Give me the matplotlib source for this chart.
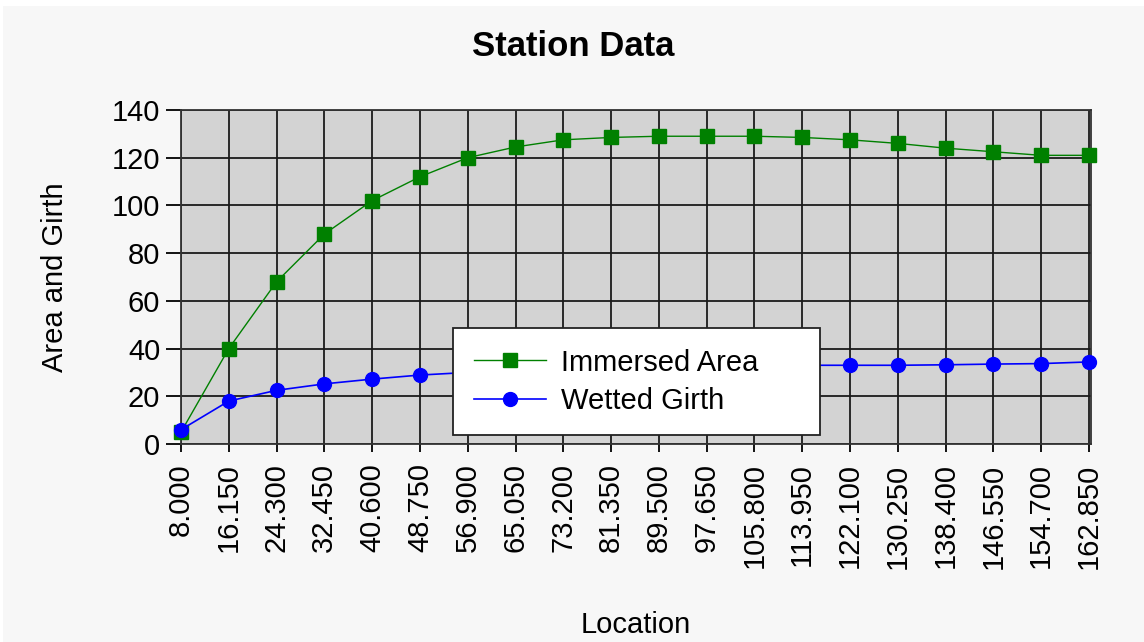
import matplotlib
matplotlib.use('Agg')
import matplotlib.pyplot as plt
from matplotlib.patches import Rectangle

plt.rcParams['font.family'] = ['Liberation Sans', 'DejaVu Sans']

# station locations and values
location = [8.000, 16.150, 24.300, 32.450, 40.600, 48.750, 56.900, 65.050, 73.200, 81.350,
            89.500, 97.650, 105.800, 113.950, 122.100, 130.250, 138.400, 146.550, 154.700, 162.850]
location_labels = ['%.3f' % v for v in location]

immersed_area = [5, 40, 68, 88, 102, 112, 120, 124.5, 127.5, 128.5,
                 129, 129, 129, 128.5, 127.5, 126, 124, 122.5, 121, 121]
wetted_girth = [6, 18, 22.5, 25.2, 27.2, 28.9, 30, 31, 31.7, 32.2,
                32.5, 32.7, 32.8, 33, 33, 33, 33.2, 33.5, 33.7, 34.4]

fig = plt.figure(figsize=(11.44, 6.42), dpi=100, facecolor='white')
# light grey panel with a thin white edge at top/left
fig.patches.append(Rectangle((3 / 1144, 0), 1, 1 - 6 / 642, transform=fig.transFigure,
                             facecolor='#f7f7f7', edgecolor='none', zorder=-10))

ax = fig.add_axes([181 / 1144, 1 - 444 / 642, 910 / 1144, 334 / 642])
ax.set_facecolor('#d3d3d3')

ax.plot(location, immersed_area, color='#008000', linewidth=1, marker='s', markersize=10,
        label='Immersed Area', zorder=3, clip_on=False)
ax.plot(location, wetted_girth, color='#0000ff', linewidth=1.2, marker='o', markersize=10,
        label='Wetted Girth', zorder=4, clip_on=False)

ax.set_xlim(8, 163.2)
ax.set_ylim(0, 140)
ax.set_xticks(location)
ax.set_xticklabels(location_labels, rotation=90)
ax.set_yticks(range(0, 141, 20))
ax.tick_params(axis='both', labelsize=21, colors='black', width=1.3)
ax.tick_params(axis='y', length=11, pad=4)
ax.tick_params(axis='x', length=6, pad=8)
ax.grid(True, color='#1a1a1a', linewidth=1.3)
ax.set_axisbelow(True)
for s in ax.spines.values():
    s.set_color('#333333')
    s.set_linewidth(1.3)

ax.set_ylabel('Area and Girth', fontsize=21)
ax.yaxis.set_label_coords(-0.123, 0.5)
ax.set_xlabel('Location', fontsize=21)
ax.xaxis.set_label_coords(0.5, -0.5)
fig.text(573 / 1144, 1 - 47 / 642, 'Station Data', fontsize=25, fontweight='bold',
         ha='center', va='center')

leg = ax.legend(loc='upper left', bbox_to_anchor=(0.299, 0.347, 0.403, 0.0), mode='expand',
                fontsize=21, handlelength=2.5, handletextpad=0.5, borderpad=0.7,
                labelspacing=0.35, fancybox=False, framealpha=1, borderaxespad=0)
leg.get_frame().set_edgecolor('#222222')
leg.get_frame().set_linewidth(1.3)
leg.set_zorder(10)

fig.savefig('out.png', dpi=100, facecolor=fig.get_facecolor())
